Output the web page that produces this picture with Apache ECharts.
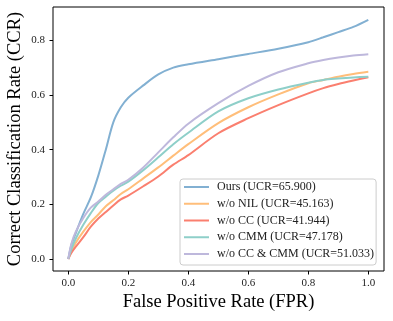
<!DOCTYPE html>
<html>
<head>
<meta charset="utf-8">
<script src="https://cdn.jsdelivr.net/npm/echarts@6/dist/echarts.min.js"></script>
<style>
	html, body { margin: 0; padding: 0; background: #fff; }
	#main { width: 393px; height: 321px; }
</style>
</head>
<body>
<div id="main"></div>
<script>
	// FPR sample points shared by all curves
	var fpr = [0, 0.01, 0.025, 0.05, 0.075, 0.1, 0.125, 0.15, 0.175, 0.2, 0.25, 0.3, 0.35, 0.4, 0.5, 0.6, 0.7, 0.8, 0.85, 0.9, 0.95, 1.0];

	// CCR
	var ours   = [0, 0.05, 0.095, 0.165, 0.225, 0.305, 0.40, 0.50, 0.555, 0.59, 0.635, 0.675, 0.70, 0.712, 0.731, 0.75, 0.769, 0.793, 0.811, 0.83, 0.849, 0.875];
	var noNil  = [0, 0.03, 0.06, 0.10, 0.135, 0.163, 0.193, 0.215, 0.238, 0.255, 0.295, 0.335, 0.378, 0.42, 0.497, 0.555, 0.602, 0.643, 0.655, 0.667, 0.677, 0.685];
	var noCc   = [0, 0.022, 0.045, 0.08, 0.118, 0.148, 0.172, 0.196, 0.218, 0.232, 0.266, 0.302, 0.345, 0.38, 0.46, 0.515, 0.563, 0.606, 0.625, 0.64, 0.653, 0.665];
	var noCmm  = [0, 0.035, 0.075, 0.125, 0.168, 0.205, 0.228, 0.25, 0.268, 0.283, 0.325, 0.372, 0.42, 0.462, 0.54, 0.588, 0.62, 0.645, 0.655, 0.66, 0.664, 0.667];
	var noBoth = [0, 0.055, 0.10, 0.15, 0.188, 0.21, 0.235, 0.255, 0.275, 0.29, 0.335, 0.39, 0.445, 0.495, 0.57, 0.633, 0.683, 0.716, 0.728, 0.737, 0.744, 0.749];

	var names = ['Ours (UCR=65.900)', 'w/o NIL (UCR=45.163)', 'w/o CC (UCR=41.944)', 'w/o CMM (UCR=47.178)', 'w/o CC & CMM (UCR=51.033)'];
	var curves = [ours, noNil, noCc, noCmm, noBoth];
	var colors = ['#82B0D2', '#FFBE7A', '#FA7F6F', '#8ECFC9', '#BEB8DC'];
	var ticks = [0, 0.2, 0.4, 0.6, 0.8, 1.0];
	var yTicks = [0, 0.2, 0.4, 0.6, 0.8];

	var font = 'Liberation Serif';

	function pairs(ys) {
		return fpr.map(function (x, i) { return [x, ys[i]]; });
	}

	var chart = echarts.init(document.getElementById('main'), null, { renderer: 'canvas' });

	var option = {
		animation: false,
		color: colors,
		grid: {
			left: 53, top: 7, right: 9, bottom: 50,
			outerBoundsMode: 'none',
			containLabel: false,
			show: true, borderColor: '#000', borderWidth: 1
		},
		legend: {
			orient: 'vertical',
			left: 180, top: 179,
			padding: [1, 2, 4, 4],
			itemGap: 2.75,
			itemWidth: 25, itemHeight: 2,
			icon: 'rect',
			backgroundColor: 'rgba(255,255,255,0.8)',
			borderColor: '#ccc', borderWidth: 1, borderRadius: 3,
			textStyle: { fontFamily: font, fontSize: 12, color: '#222', lineHeight: 14, padding: [0, 0, 0, 3] },
			data: names
		},
		xAxis: {
			type: 'value',
			min: -0.051, max: 1.0523,
			name: 'False Positive Rate (FPR)',
			nameLocation: 'middle',
			nameGap: 22,
			nameMoveOverlap: false,
			nameTextStyle: { fontFamily: font, fontSize: 18.5, color: '#000' },
			axisLine: { show: false, onZero: false },
			axisTick: { show: true, inside: false, length: 3.5, lineStyle: { color: '#000' }, customValues: ticks },
			axisLabel: {
				fontFamily: font, fontSize: 11, color: '#222', margin: 7,
				customValues: ticks,
				formatter: function (v) { return v.toFixed(1); }
			},
			splitLine: { show: false }
		},
		yAxis: {
			type: 'value',
			min: -0.0439, max: 0.9218,
			name: 'Correct Classification Rate (CCR)',
			nameLocation: 'middle',
			nameGap: 28,
			nameMoveOverlap: false,
			nameTextStyle: { fontFamily: font, fontSize: 18.5, color: '#000' },
			axisLine: { show: false, onZero: false },
			axisTick: { show: true, inside: false, length: 3.5, lineStyle: { color: '#000' }, customValues: yTicks },
			axisLabel: {
				fontFamily: font, fontSize: 11, color: '#222', margin: 8,
				customValues: yTicks,
				formatter: function (v) { return v.toFixed(1); }
			},
			splitLine: { show: false }
		},
		series: curves.map(function (ys, i) {
			return {
				name: names[i],
				type: 'line',
				data: pairs(ys),
				showSymbol: false,
				smooth: 0.3,
				lineStyle: { width: 2, color: colors[i] },
				itemStyle: { color: colors[i] }
			};
		})
	};

	chart.setOption(option);
</script>
</body>
</html>
